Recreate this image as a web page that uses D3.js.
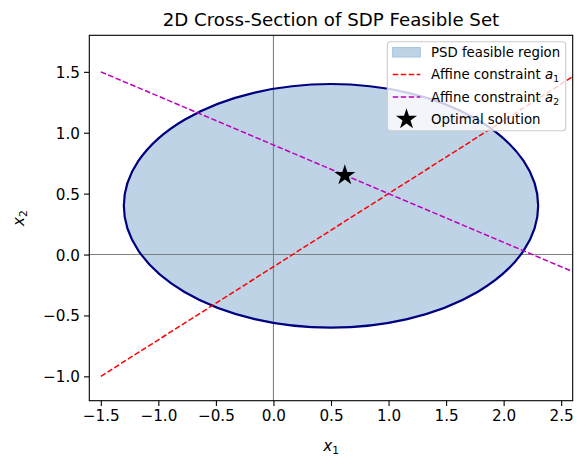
<!DOCTYPE html>
<html>
<head>
<meta charset="utf-8">
<script src="https://cdn.jsdelivr.net/npm/d3@7"></script>
<style>
  body { margin: 0; background: #fff; }
  text { font-family: "DejaVu Sans", sans-serif; }
</style>
</head>
<body>
<div id="chart"></div>
<script>
// values
var xTicks = [-1.5, -1.0, -0.5, 0.0, 0.5, 1.0, 1.5, 2.0, 2.5];
var yTicks = [-1.0, -0.5, 0.0, 0.5, 1.0, 1.5];
var xDomain = [-1.6, 2.6];
var yDomain = [-1.2, 1.8];

var ellipseCenter = [0.5, 0.4];
var ellipseRadii = [1.8, 1.0];

var lineX = [-1.5, 3.0];
var a1Y = [-1.0, 1.7];
var a2Y = [1.5, -0.3];

var optimal = [0.62, 0.65];

var legendLabels = ["PSD feasible region", "Affine constraint ", "Affine constraint ", "Optimal solution"];

var margin = {top: 35.3, right: 13.3, bottom: 66.3, left: 89.3};
var W = 586, H = 467;
var width = W - margin.left - margin.right;
var height = H - margin.top - margin.bottom;

var root = d3.select("#chart").append("svg")
    .attr("width", W)
    .attr("height", H);

var svg = root.append("g")
    .attr("transform", "translate(" + margin.left + "," + margin.top + ")");

var x = d3.scaleLinear().domain(xDomain).range([0, width]);
var y = d3.scaleLinear().domain(yDomain).range([height, 0]);

svg.append("clipPath").attr("id", "clip")
    .append("rect").attr("width", width).attr("height", height);

var plot = svg.append("g").attr("clip-path", "url(#clip)");

// feasible region
plot.append("ellipse")
    .attr("cx", x(ellipseCenter[0]))
    .attr("cy", y(ellipseCenter[1]))
    .attr("rx", x(ellipseCenter[0] + ellipseRadii[0]) - x(ellipseCenter[0]))
    .attr("ry", y(ellipseCenter[1]) - y(ellipseCenter[1] + ellipseRadii[1]))
    .attr("fill", "rgb(190,211,229)")
    .attr("stroke", "none");

// zero lines
plot.append("line")
    .attr("x1", 0).attr("x2", width)
    .attr("y1", y(0)).attr("y2", y(0))
    .attr("stroke", "#808080").attr("stroke-width", 1.1);
plot.append("line")
    .attr("x1", x(0)).attr("x2", x(0))
    .attr("y1", 0).attr("y2", height)
    .attr("stroke", "#808080").attr("stroke-width", 1.1);

// boundary
plot.append("ellipse")
    .attr("cx", x(ellipseCenter[0]))
    .attr("cy", y(ellipseCenter[1]))
    .attr("rx", x(ellipseCenter[0] + ellipseRadii[0]) - x(ellipseCenter[0]))
    .attr("ry", y(ellipseCenter[1]) - y(ellipseCenter[1] + ellipseRadii[1]))
    .attr("fill", "none")
    .attr("stroke", "#000080")
    .attr("stroke-width", 2.2);

var line = d3.line()
    .x(function(d) { return x(d[0]); })
    .y(function(d) { return y(d[1]); });

plot.append("path")
    .datum(lineX.map(function(v, i) { return [v, a1Y[i]]; }))
    .attr("fill", "none")
    .attr("stroke", "#ff0000")
    .attr("stroke-width", 1.5)
    .attr("stroke-dasharray", "5.6,2.4")
    .attr("d", line);

plot.append("path")
    .datum(lineX.map(function(v, i) { return [v, a2Y[i]]; }))
    .attr("fill", "none")
    .attr("stroke", "#bf00bf")
    .attr("stroke-width", 1.5)
    .attr("stroke-dasharray", "5.6,2.4")
    .attr("d", line);

var star = d3.symbol().type(d3.symbolStar).size(137);

plot.append("path")
    .attr("d", star())
    .attr("transform", "translate(" + x(optimal[0]) + "," + y(optimal[1]) + ")")
    .attr("fill", "#000");

// axes
var xAxis = svg.append("g")
    .attr("transform", "translate(0," + height + ")")
    .call(d3.axisBottom(x).tickValues(xTicks).tickFormat(d3.format(".1f")).tickSize(5.3).tickPadding(4));
var yAxis = svg.append("g")
    .call(d3.axisLeft(y).tickValues(yTicks).tickFormat(d3.format(".1f")).tickSize(5.3).tickPadding(4));

[xAxis, yAxis].forEach(function(a) {
    a.select(".domain").remove();
    a.selectAll("line").attr("stroke", "#000").attr("stroke-width", 1.1);
    a.selectAll("text").attr("fill", "#000").style("font-size", "15.2px").style("font-family", "DejaVu Sans");
});
yAxis.selectAll("text").attr("dy", "0.36em");

svg.append("rect")
    .attr("width", width).attr("height", height)
    .attr("fill", "none").attr("stroke", "#000").attr("stroke-width", 1.1);

// title and labels
root.append("text")
    .attr("x", margin.left + width / 2).attr("y", 26)
    .attr("text-anchor", "middle")
    .style("font-size", "18.2px")
    .text("2D Cross-Section of SDP Feasible Set");

var xl = root.append("text")
    .attr("x", margin.left + width / 2).attr("y", 451)
    .attr("text-anchor", "middle")
    .style("font-size", "15.2px");
xl.append("tspan").style("font-style", "italic").text("x");
xl.append("tspan").attr("dy", 3).style("font-size", "10.6px").text("1");

var yl = root.append("text")
    .attr("transform", "translate(24," + (margin.top + height / 2) + ") rotate(-90)")
    .attr("text-anchor", "middle")
    .style("font-size", "15.2px");
yl.append("tspan").style("font-style", "italic").text("x");
yl.append("tspan").attr("dy", 3).style("font-size", "10.6px").text("2");

// legend
var lg = root.append("g");
lg.append("rect")
    .attr("x", 387.3).attr("y", 41.7)
    .attr("width", 178.4).attr("height", 89)
    .attr("rx", 3)
    .attr("fill", "#fff").attr("fill-opacity", 0.8)
    .attr("stroke", "#cccccc").attr("stroke-width", 1.1);

var rowY = [52.3, 74.6, 96.9, 119.2];
var hx0 = 392.7, hx1 = 420.3, tx = 431;

lg.append("rect")
    .attr("x", hx0).attr("y", rowY[0] - 4.7)
    .attr("width", hx1 - hx0).attr("height", 9.4)
    .attr("fill", "rgb(190,211,229)")
    .attr("stroke", "rgb(170,197,220)").attr("stroke-width", 1.1);

[["#ff0000", 1], ["#bf00bf", 2]].forEach(function(c) {
    lg.append("line")
        .attr("x1", hx0).attr("x2", hx1)
        .attr("y1", rowY[c[1]]).attr("y2", rowY[c[1]])
        .attr("stroke", c[0]).attr("stroke-width", 1.5)
        .attr("stroke-dasharray", "5.6,2.4");
});

lg.append("path")
    .attr("d", star())
    .attr("transform", "translate(" + ((hx0 + hx1) / 2) + "," + rowY[3] + ")")
    .attr("fill", "#000");

legendLabels.forEach(function(t, i) {
    var txt = lg.append("text")
        .attr("x", tx).attr("y", rowY[i] + 4.8)
        .style("font-size", "13.3px")
        .text(t);
    if (i == 1 || i == 2) {
        txt.append("tspan").style("font-style", "italic").text("a");
        txt.append("tspan").attr("dy", 3).style("font-size", "9.3px").text(String(i));
    }
});
</script>
</body>
</html>
